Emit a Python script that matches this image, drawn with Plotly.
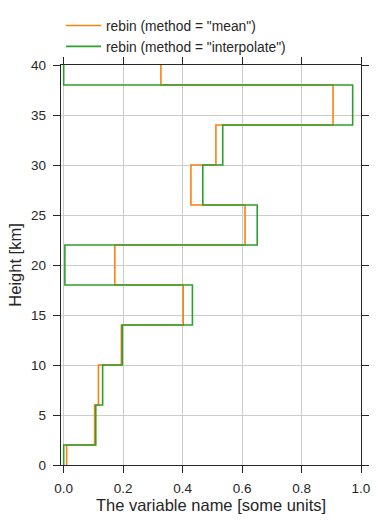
import plotly.graph_objects as go

heights_km = [0, 4, 8, 12, 16, 20, 24, 28, 32, 36, 40]
mean_values = [0.010, 0.104, 0.117, 0.194, 0.402, 0.172, 0.610, 0.428, 0.512, 0.906, 0.327]
interp_values = [0.000, 0.108, 0.131, 0.197, 0.433, 0.004, 0.651, 0.468, 0.535, 0.972, 0.000]
x_ticks = [0.0, 0.2, 0.4, 0.6, 0.8, 1.0]
y_ticks = [0, 5, 10, 15, 20, 25, 30, 35, 40]

TXT = "#262626"
FONT = "Liberation Sans, Arial, sans-serif"
fig = go.Figure()
fig.add_trace(go.Scatter(x=mean_values, y=heights_km, mode="lines", line_shape="vhv",
                         line=dict(color="#ff7f0e", width=1.6),
                         name='rebin (method = "mean")'))
fig.add_trace(go.Scatter(x=interp_values, y=heights_km, mode="lines", line_shape="vhv",
                         line=dict(color="#2ca02c", width=1.6),
                         name='rebin (method = "interpolate")'))

axis_common = dict(showline=True, linecolor=TXT, linewidth=1.4, mirror="ticks",
                   ticks="outside", ticklen=7, tickwidth=1.3, tickcolor=TXT,
                   showgrid=True, gridcolor="#cccccc", gridwidth=1, zeroline=False,
                   automargin=False,
                   tickfont=dict(size=13.5, color=TXT, family=FONT))
fig.update_xaxes(range=[-0.009, 1.0], tickvals=x_ticks, ticktext=[f"{v:.1f}" for v in x_ticks],
                 ticklabelstandoff=4,
                 title=dict(text="The variable name [some units]", font=dict(size=16.5, color=TXT, family=FONT), standoff=0),
                 **axis_common)
fig.update_yaxes(range=[0, 40], tickvals=y_ticks, ticklabelstandoff=4,
                 title=dict(text="Height [km]", font=dict(size=16.5, color=TXT, family=FONT), standoff=5),
                 **axis_common)
fig.update_layout(width=382, height=524, margin=dict(l=61, r=21, t=65, b=59, autoexpand=False),
                  plot_bgcolor="white", paper_bgcolor="white",
                  font=dict(family=FONT, color=TXT),
                  legend=dict(x=0.0, y=1.1375, xanchor="left", yanchor="top",
                              font=dict(size=13.8, color=TXT, family=FONT), bgcolor="rgba(0,0,0,0)",
                              itemwidth=35, tracegroupgap=0),
                  showlegend=True)
fig.write_html("out.html", config={"displayModeBar": False},
               post_script="document.body.style.margin='0';document.body.style.overflow='hidden';")
